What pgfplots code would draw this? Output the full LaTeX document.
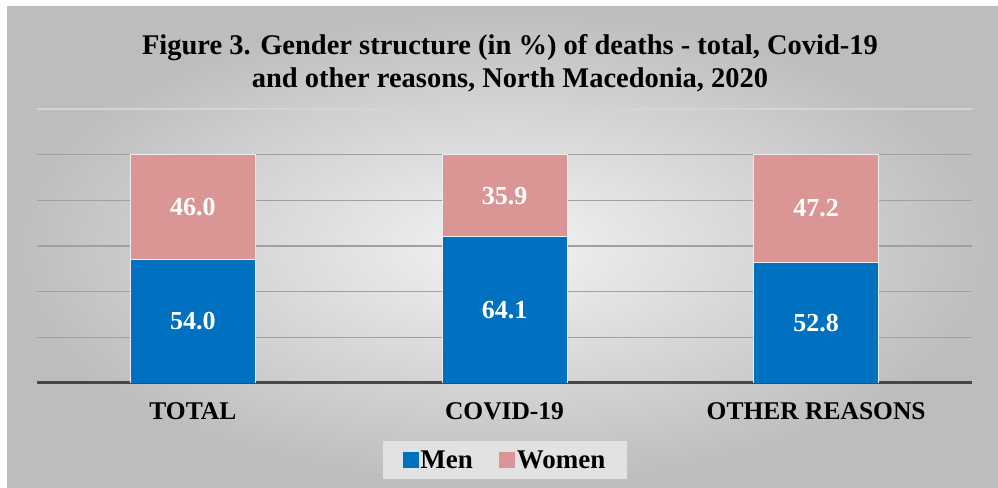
\documentclass[border=0pt]{standalone}
\usepackage{pgfplots}
\pgfplotsset{compat=1.18}
\usepackage{fontspec}
\setmainfont{Liberation Serif}
\definecolor{menblue}{HTML}{0070C0}
\definecolor{womenpink}{HTML}{DA9694}
\definecolor{gridgray}{HTML}{A0A0A0}
\definecolor{legendgray}{HTML}{E2E2E2}
\definecolor{bginner}{HTML}{F3F3F3}
\definecolor{bgouter}{HTML}{BDBDBD}
\tikzset{barlab/.style={text=white, font=\bfseries\fontsize{26bp}{28bp}\selectfont}}
\begin{document}
\begin{tikzpicture}
\path[use as bounding box] (0bp,0bp) rectangle (998bp,488bp);
\fill[white] (0bp,0bp) rectangle (998bp,488bp);
\shade[inner color=bginner, outer color=bgouter] (7bp,0bp) rectangle (998bp,481bp);
\node[align=center, font=\bfseries\fontsize{28.5bp}{33bp}\selectfont] at (510bp,425bp)
  {Figure 3. Gender structure (in \%) of deaths - total, Covid-19\\and other reasons, North Macedonia, 2020};
\begin{axis}[
  at={(37bp,105bp)}, anchor=south west,
  width=935bp, height=274bp, scale only axis,
  xmin=-0.5, xmax=2.5, ymin=0, ymax=120,
  ybar stacked, bar width=125bp,
  xtick={0,1,2}, xticklabels={TOTAL, COVID-19, OTHER REASONS},
  xticklabel style={font=\bfseries\fontsize{25.5bp}{28bp}\selectfont, anchor=center, yshift=-28bp},
  ytick={20,40,60,80,100}, yticklabels={},
  extra y ticks={120}, extra y tick labels={},
  extra y tick style={grid style={color=black!17, line width=1.2bp}},
  ymajorgrids, grid style={gridgray, line width=1.2bp},
  major tick length=0,
  axis x line*=bottom, axis y line*=left,
  y axis line style={draw=none},
  x axis line style={draw=black!72, line width=3bp},
  legend style={at={(0.5005,-0.281)}, anchor=center, legend columns=2,
    fill=legendgray, draw=none, inner xsep=20bp, inner ysep=7.5bp,
    font=\bfseries\fontsize{27bp}{30bp}\selectfont,
    /tikz/every even column/.append style={column sep=24bp}},
  legend cell align=left,
]
\addplot[fill=menblue, draw=white!85!gray, line width=0.8bp,
  legend image code/.code={\fill[menblue] (0bp,-7.5bp) rectangle (15bp,7.5bp);}]
  coordinates {(0,54.0) (1,64.1) (2,52.8)};
\addplot[fill=womenpink, draw=white!85!gray, line width=0.8bp,
  legend image code/.code={\fill[womenpink] (0bp,-7.5bp) rectangle (15bp,7.5bp);}]
  coordinates {(0,46.0) (1,35.9) (2,47.2)};
\legend{Men, Women}
\coordinate (m0) at (axis cs:0,27.0);
\coordinate (m1) at (axis cs:1,32.05);
\coordinate (m2) at (axis cs:2,26.4);
\coordinate (w0) at (axis cs:0,77.0);
\coordinate (w1) at (axis cs:1,82.05);
\coordinate (w2) at (axis cs:2,76.4);
\end{axis}
\node[barlab] at (m0) {54.0};
\node[barlab] at (m1) {64.1};
\node[barlab] at (m2) {52.8};
\node[barlab] at (w0) {46.0};
\node[barlab] at (w1) {35.9};
\node[barlab] at (w2) {47.2};
\end{tikzpicture}
\end{document}
